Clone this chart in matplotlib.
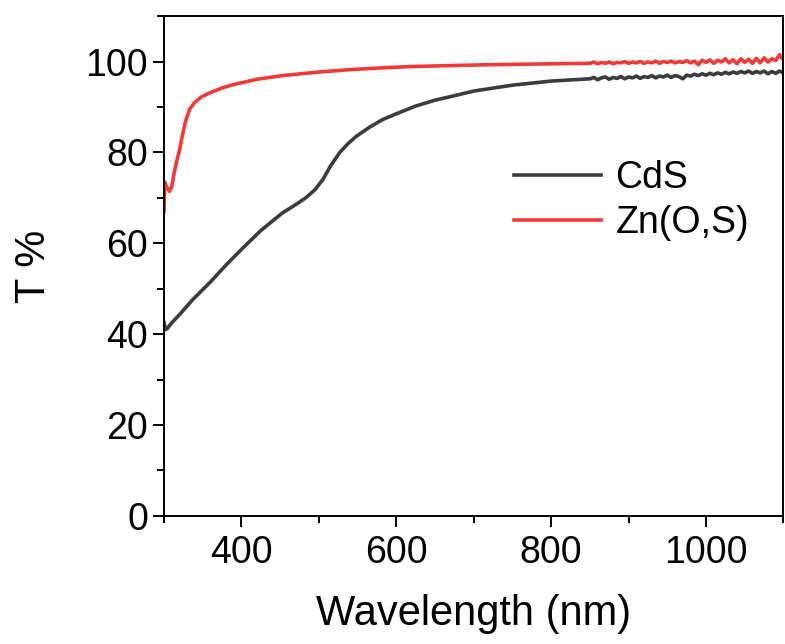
import matplotlib
matplotlib.use('Agg')
import matplotlib.pyplot as plt
from matplotlib.ticker import MultipleLocator

plt.rcParams['font.family'] = ['Liberation Sans', 'DejaVu Sans']

## data
cds_wl = [300, 302, 304, 310, 320, 337, 360, 380, 402, 425, 453, 470, 483, 495,
          505, 515, 527, 538, 548, 565, 582, 600, 625, 650, 668, 700, 750, 800,
          850, 855, 860, 865, 870, 875, 880, 885, 890, 895, 900, 905, 910, 915,
          920, 925, 930, 935, 940, 945, 950, 955, 960, 965, 970, 975, 980, 985,
          990, 995, 1000, 1005, 1010, 1015, 1020, 1025, 1030, 1035, 1040, 1045,
          1050, 1055, 1060, 1065, 1070, 1075, 1080, 1085, 1090, 1095, 1100]
cds_t = [42.5, 41.0, 41.2, 42.5, 44.3, 47.6, 51.5, 55.2, 59.0, 62.8, 66.7, 68.5,
         70.0, 71.8, 74.0, 77.0, 80.0, 82.0, 83.5, 85.5, 87.2, 88.5, 90.2, 91.5,
         92.2, 93.5, 94.8, 95.7,
         96.2, 96.5, 96.0, 96.4, 96.6, 96.1, 96.5, 96.3, 96.7, 96.2, 96.6, 96.4,
         96.8, 96.3, 96.7, 96.5, 96.9, 96.4, 96.8, 96.6, 97.0, 96.5, 96.9, 96.7,
         96.2, 97.0, 96.8, 97.2, 96.9, 97.3, 97.0, 97.4, 97.1, 97.5, 97.2, 97.6,
         97.3, 97.7, 97.4, 97.8, 97.5, 97.9, 97.4, 97.8, 97.5, 97.9, 97.3, 97.8,
         97.4, 97.9, 97.5]

zn_wl = [300, 301, 303, 307, 310, 313, 316, 320, 324, 328, 333, 339, 348, 359,
         375, 389, 420, 453, 500, 539, 580, 620, 668, 720, 780, 820,
         850, 855, 860, 865, 870, 875, 880, 885, 890, 895, 900, 905, 910, 915,
         920, 925, 930, 935, 940, 945, 950, 955, 960, 965, 970, 975, 980, 985,
         990, 995, 1000, 1005, 1010, 1015, 1020, 1025, 1030, 1035, 1040, 1045,
         1050, 1055, 1060, 1065, 1070, 1075, 1080, 1085, 1090, 1095, 1100]
zn_t = [67.0, 73.5, 72.5, 71.4, 72.5, 75.5, 77.8, 80.6, 84.0, 87.0, 89.5, 90.9,
        92.2, 93.1, 94.2, 94.9, 96.1, 96.9, 97.7, 98.2, 98.6, 98.9, 99.1, 99.3,
        99.45, 99.55,
        99.6, 99.9, 99.5, 99.8, 99.6, 99.9, 99.5, 99.8, 99.7, 100.0, 99.6, 99.9,
        99.7, 100.0, 99.6, 99.9, 99.7, 100.1, 99.6, 100.0, 99.8, 100.1, 99.7,
        100.0, 99.8, 100.2, 99.7, 100.1, 99.3, 100.3, 99.8, 100.4, 99.6, 100.3,
        99.9, 100.6, 99.7, 100.4, 99.5, 100.6, 99.8, 100.5, 99.6, 100.7, 99.7,
        100.8, 99.9, 100.6, 100.2, 101.5, 100.3]

fig = plt.figure(figsize=(7.85, 6.44), dpi=100)
ax = fig.add_axes([0.209, 0.199, 0.789, 0.776])

ax.plot(cds_wl, cds_t, color='#3c3c3c', lw=2.6, label='CdS')
ax.plot(zn_wl, zn_t, color='#f03a3a', lw=2.6, label='Zn(O,S)')

ax.set_xlim(300, 1100)
ax.set_ylim(0, 110)
ax.xaxis.set_major_locator(MultipleLocator(200))
ax.xaxis.set_minor_locator(MultipleLocator(100))
ax.yaxis.set_major_locator(MultipleLocator(20))
ax.yaxis.set_minor_locator(MultipleLocator(10))
ax.tick_params(which='both', direction='out', width=1.4, labelsize=27,
               top=False, right=False)
ax.tick_params(which='major', length=8)
ax.tick_params(axis='x', which='major', pad=6)
ax.tick_params(which='minor', length=5)
ax.set_yticks([0, 20, 40, 60, 80, 100])
for s in ax.spines.values():
    s.set_linewidth(1.4)

ax.set_xlabel('Wavelength (nm)', fontsize=30, labelpad=16)
ax.set_ylabel('T %', fontsize=30, labelpad=23)

ax.legend(loc='upper left', bbox_to_anchor=(0.511, 0.78), frameon=False,
          fontsize=27, handlelength=2.3, handletextpad=0.4, labelspacing=0.25)

plt.savefig('out.png', dpi=100)
